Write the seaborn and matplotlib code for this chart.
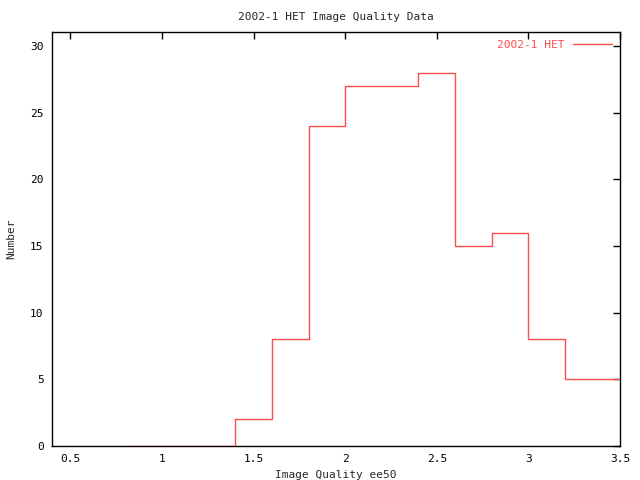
import numpy as np
import pandas as pd
import matplotlib
matplotlib.use("Agg")
import matplotlib.pyplot as plt
import seaborn as sns

# histogram bins (left edges) and counts, gnuplot "steps" style
bin_left = [0.8, 1.0, 1.2, 1.4, 1.6, 1.8, 2.0, 2.2, 2.4, 2.6, 2.8, 3.0, 3.2, 3.4, 3.6]
counts = [0, 0, 0, 2, 8, 24, 27, 27, 28, 15, 16, 8, 5, 5, 3]
x_ticks = [0.5, 1, 1.5, 2, 2.5, 3, 3.5]
x_tick_labels = ["0.5", "1", "1.5", "2", "2.5", "3", "3.5"]
y_ticks = [0, 5, 10, 15, 20, 25, 30]

df = pd.DataFrame({"ee50": bin_left, "n": counts})

sns.set_style("white")
plt.rcParams["font.family"] = ["DejaVu Sans Mono", "DejaVu Sans"]
red = "#ff4d4d"

fig = plt.figure(figsize=(6.4, 4.8), dpi=100)
ax = fig.add_axes([52 / 640, 1 - 446 / 480, (620 - 52) / 640, (446 - 32) / 480])

sns.lineplot(data=df, x="ee50", y="n", ax=ax, color=red, linewidth=1,
             drawstyle="steps-post", label="2002-1 HET", zorder=3)

ax.set_xlim(0.4, 3.5)
ax.set_ylim(0, 31.05)
ax.set_xticks(x_ticks)
ax.set_xticklabels(x_tick_labels)
ax.set_yticks(y_ticks)
ax.tick_params(direction="in", length=5, width=1, top=True, right=True,
               labelsize=8, colors="black", pad=6)
for s in ax.spines.values():
    s.set_color("black")
    s.set_linewidth(1)

ax.set_xlabel("Image Quality ee50", fontsize=8, labelpad=4)
ax.set_ylabel("Number", fontsize=8, labelpad=10)
ax.set_title("2002-1 HET Image Quality Data", fontsize=8, pad=9)

leg = ax.legend(loc="upper right", frameon=False, markerfirst=False,
                fontsize=8, handlelength=3.5, borderaxespad=0.3)
for t in leg.get_texts():
    t.set_color(red)

fig.savefig("out.png", dpi=100)
